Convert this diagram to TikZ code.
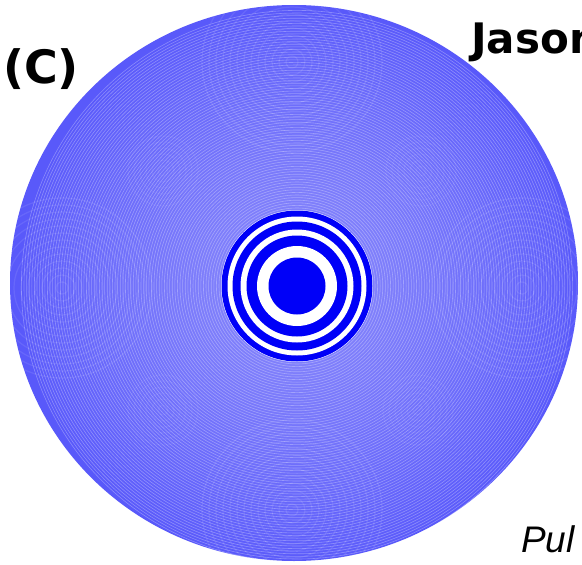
\documentclass[tikz,border=0pt]{standalone}
\usepackage{fontspec}
\newfontfamily\djv{DejaVu Sans}
\newfontfamily\libsans{Liberation Sans}
\definecolor{zb}{RGB}{0,0,248}
\tikzset{
  lbl/.style={anchor=base west, inner sep=0pt, text=black},
  ringfill/.style={fill=zb},
  moire/.style={draw=white, opacity=0.09, line width=1.2pt},
}
\begin{document}
\begin{tikzpicture}[x=1pt,y=-1pt]
\useasboundingbox (0,0) rectangle (582,565);
\clip (0,0) rectangle (582,565);
\fill[white] (0,0) rectangle (582,565);
\coordinate (O) at (294,283);
\coordinate (C) at (297,286);
% outer disc
\fill[zb!65!white] (O) ellipse [x radius=284, y radius=278];
% radial gradient body
\foreach \r in {272,270,...,76} {
  \pgfmathsetmacro\p{50+14*((\r-76)/196)^1.2}
  \fill[zb!\p!white] (C) circle (\r);
}
% fine ring texture
\foreach \r in {78,80.6,...,276} {
  \draw[white, opacity=0.3, line width=0.6pt] (C) circle (\r);
}
% moire secondary patterns
\begin{scope}
\clip (O) ellipse [x radius=284, y radius=278];
\foreach \cx/\cy in {292/62, 292/510, 62/288, 522/288} {
  \foreach \rr in {6,13,...,90} {
    \draw[moire] (\cx,\cy) circle (\rr);
  }
}
\foreach \cx/\cy in {163/171, 421/171, 163/410, 418/410} {
  \foreach \rr in {5,11,...,40} {
    \draw[moire, opacity=0.05] (\cx,\cy) circle (\rr);
  }
}
\end{scope}
% central zone plate rings
\fill[white] (C) circle (76);
\fill[ringfill] (C) circle (75.5);
\fill[white] (C) circle (69.5);
\fill[ringfill] (C) circle (64.5);
\fill[white] (C) circle (56.5);
\fill[ringfill] (C) circle (50.5);
\fill[white] (C) circle (40);
\fill[ringfill] (C) circle (28.5);
% labels
\node[lbl, font=\djv\bfseries\fontsize{46}{46}\selectfont] (panel) at (3,83) {(C)};
\node[lbl, font=\djv\bfseries\fontsize{42}{42}\selectfont] (author) at (471,53) {Jason};
\node[lbl, font=\libsans\itshape\fontsize{37}{37}\selectfont] (pul) at (521,552) {Pul};
\end{tikzpicture}
\end{document}
